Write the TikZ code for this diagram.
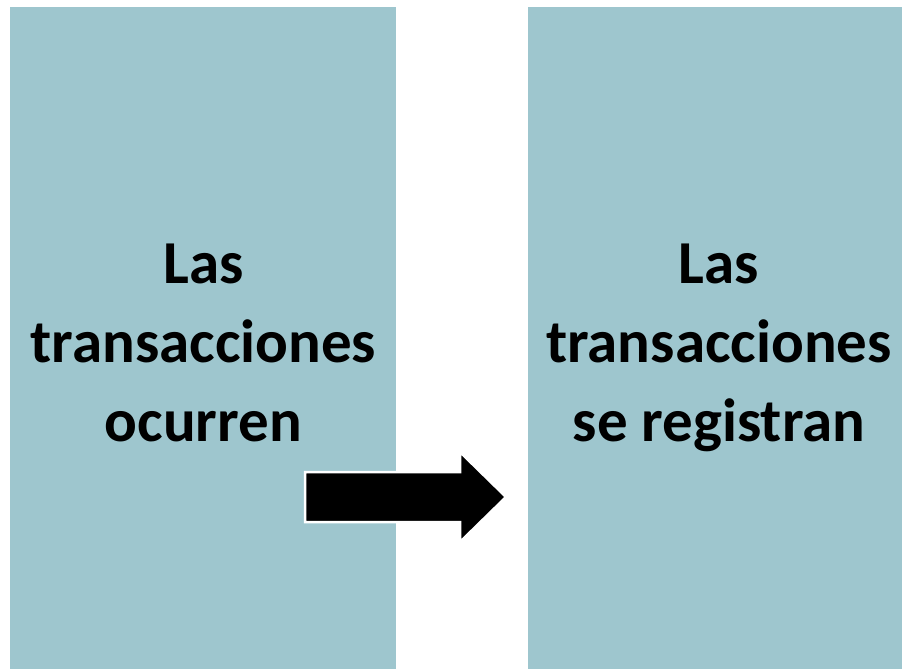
\documentclass[tikz,border=0pt]{standalone}
\usepackage{fontspec}
\setmainfont{Carlito}
\usetikzlibrary{positioning}
\definecolor{panel}{RGB}{158,198,206}
\tikzset{
    panel/.style={
           rectangle,
           fill=panel,
           draw=none,
           minimum width=386pt,
           minimum height=672pt,
           inner sep=0pt,
           anchor=north west,
           },
    caption/.style={
           align=center,
           inner sep=0pt,
           font=\fontsize{61}{79}\selectfont\bfseries,
           },
}

\begin{document}
\begin{tikzpicture}[x=1pt,y=-1pt]
 \useasboundingbox (0,0) rectangle (902,669);
 \node[panel] (OCURREN) at (10,7) {};
 \node[panel,
 right=131pt of OCURREN.north east,
 anchor=north west] (REGISTRO) {};

 \node[caption,anchor=base] (TXTL) at (203.5,441)
 {Las\\transacciones\\ocurren};
 \node[caption,anchor=base] (TXTR) at (719,441)
 {Las\\transacciones\\se registran};

 % block arrow between the two panels
 \coordinate (ARRB) at (305,472);
 \draw[white,line width=2.5pt,fill=black]
   (ARRB) -- ++(155,0) -- ++(0,-20) -- (506,497) -- (460,542)
   -- ++(0,-20) -- ++(-155,0) -- cycle;
\end{tikzpicture}
\end{document}
